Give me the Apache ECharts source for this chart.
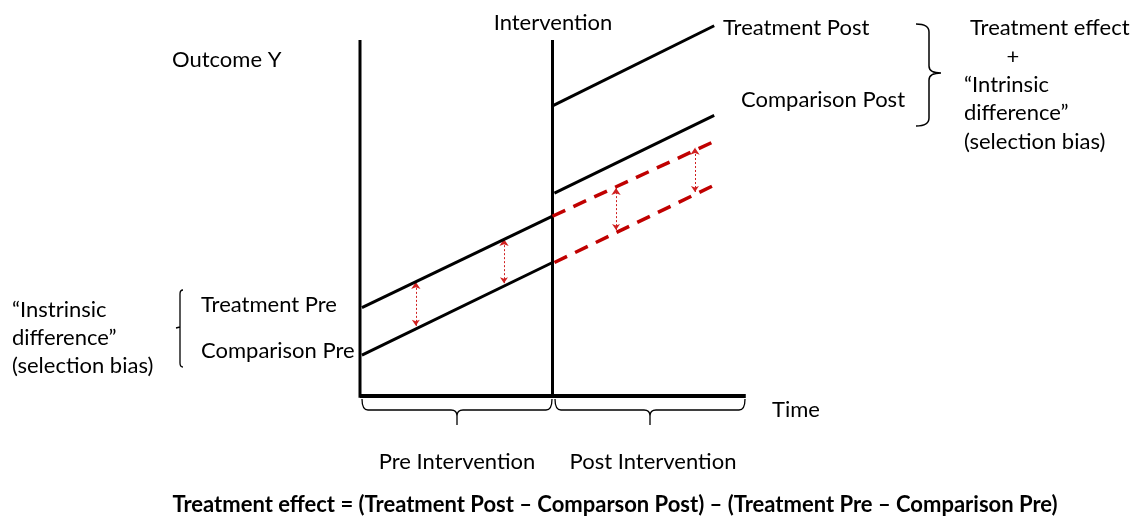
<!DOCTYPE html>
<html><head><meta charset="utf-8">
<script src="https://cdn.jsdelivr.net/npm/echarts@6/dist/echarts.min.js"></script>
<style>html,body{margin:0;padding:0;background:#fff}#c{width:1131px;height:519px}</style>
</head><body><div id="c"></div>
<script>
// ---- data (time units: 0 = start, 5 = intervention, 10 = end of axis) ----
const treatmentPre     = [[0.05, 2.48], [5, 5.05]];
const comparisonPre    = [[0.05, 1.15], [5, 3.75]];
const treatmentPost    = [[5, 8.15], [9.2, 10.4]];
const comparisonPost   = [[5.05, 5.7], [9.2, 7.88]];
const counterTreat     = [[5, 5.05], [9.2, 7.15]];
const counterComp      = [[5.05, 3.75], [9.35, 6.0]];
const arrowX           = [1.45, 3.74, 6.65, 8.7];
const arrowTop         = [3.2, 4.41, 5.84, 6.97];
const arrowBottom      = [1.97, 3.17, 4.66, 5.73];
const yAxisLine        = [[0, -0.05], [0, 10]];
const interventionLine = [[5, -0.05], [5, 10]];
const xAxisLine        = [[0, 0], [10.02, 0]];

// ---- layout mapping (pixels) ----
const PX0 = 360, PXU = 38.5, PY0 = 396, PYU = 35.6, W = 1131, H = 519;
const FONT = 'Lato, "Open Sans", sans-serif';

const chart = echarts.init(document.getElementById('c'), null, {renderer: 'canvas'});

function solid(data, w) {
  return {type: 'line', data, symbol: 'none', silent: true,
    lineStyle: {color: '#000', width: w || 3, cap: 'butt'}, clip: false};
}
function dashed(data) {
  return {type: 'line', data, symbol: 'none', silent: true,
    lineStyle: {color: '#c00000', width: 3.5, type: [14, 9], cap: 'butt'}, clip: false};
}
const arrowData = arrowX.map((x, i) => ({coords: [[x, arrowBottom[i]], [x, arrowTop[i]]]}));

function txt(x, y, s, opts) {
  return Object.assign({type: 'text', x, y, silent: true,
    style: Object.assign({text: s, font: '22px ' + FONT, fill: '#000', textVerticalAlign: 'middle', textAlign: 'left'}, opts || {})});
}
const bracePaths = [
  ['M362,399 Q362,410 368,410 L451,410 Q457,410 457,416 L457,425 M457,416 Q457,410 463,410 L546,410 Q552,410 552,399', 1.3],
  ['M555,399 Q555,410 561,410 L644,410 Q650,410 650,416 L650,425 M650,416 Q650,410 656,410 L739,410 Q745,410 745,399', 1.3],
  ['M916,24 Q929,24 929,32 L929,66 Q929,73 941,73 Q929,73 929,80 L929,118 Q929,126 916,126', 1.5],
  ['M183,290 Q180,290 180,294 L180,363 Q180,367 183,367 M180,327 L176,328', 1.3]
];

chart.setOption({
  animation: false,
  grid: {left: 0, right: 0, top: 0, bottom: 0},
  xAxis: {type: 'value', min: -PX0 / PXU, max: (W - PX0) / PXU, show: false},
  yAxis: {type: 'value', min: -(H - PY0) / PYU, max: PY0 / PYU, show: false},
  series: [
    solid(yAxisLine, 3), solid(interventionLine, 3), solid(xAxisLine, 4),
    solid(treatmentPre), solid(comparisonPre), solid(treatmentPost), solid(comparisonPost),
    dashed(counterTreat), dashed(counterComp),
    {type: 'lines', coordinateSystem: 'cartesian2d', data: arrowData, silent: true,
      symbol: ['arrow', 'arrow'], symbolSize: [6, 7],
      itemStyle: {color: '#c00000'},
      lineStyle: {color: '#d02020', width: 1, type: [2, 2], opacity: 1}},
    {type: 'custom', silent: true, data: [0], clip: false,
      renderItem: function () {
        return {type: 'group', children: bracePaths.map(p => ({
          type: 'path', shape: {pathData: p[0]},
          style: {fill: 'none', stroke: '#000', lineWidth: p[1]}}))};
      }}
  ],
  graphic: [
    txt(172, 60, 'Outcome Y'),
    txt(553, 23, 'Intervention', {textAlign: 'center'}),
    txt(723, 28, 'Treatment Post'),
    txt(741, 100, 'Comparison Post'),
    txt(970, 28, 'Treatment effect'),
    txt(1013, 57, '+', {textAlign: 'center'}),
    txt(964, 85, '\u201CIntrinsic'),
    txt(964, 113, 'difference\u201D'),
    txt(964, 142, '(selection bias)'),
    txt(12, 310, '\u201CInstrinsic'),
    txt(12, 338, 'difference\u201D'),
    txt(12, 366, '(selection bias)'),
    txt(201, 305, 'Treatment Pre'),
    txt(201, 351, 'Comparison Pre'),
    txt(772, 410, 'Time'),
    txt(457, 462, 'Pre Intervention', {textAlign: 'center'}),
    txt(653, 462, 'Post Intervention', {textAlign: 'center'}),
    txt(615, 505, 'Treatment effect = (Treatment Post \u2013 Comparson Post) \u2013 (Treatment Pre \u2013 Comparison Pre)',
      {textAlign: 'center', font: 'bold 22px ' + FONT})
  ]
});
</script></body></html>
